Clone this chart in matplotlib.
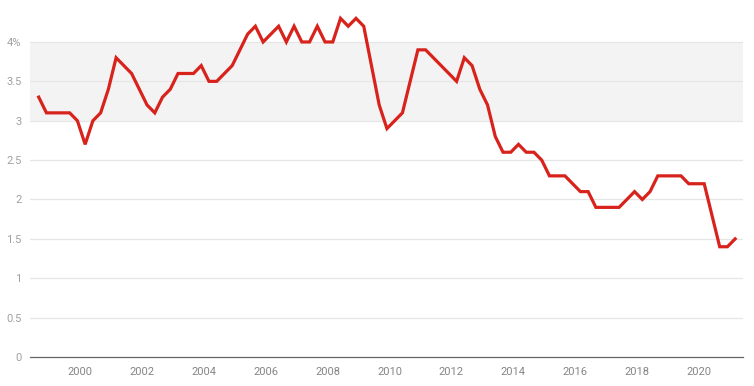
import numpy as np
import matplotlib.pyplot as plt

# quarterly values, first point Sep 1998
start_year = 1998 + 8/12
rate = [3.3, 3.1, 3.1, 3.1, 3.1, 3.0, 2.7, 3.0, 3.1, 3.4,
        3.8, 3.7, 3.6, 3.4, 3.2, 3.1, 3.3, 3.4, 3.6, 3.6,
        3.6, 3.7, 3.5, 3.5, 3.6, 3.7, 3.9, 4.1, 4.2, 4.0,
        4.1, 4.2, 4.0, 4.2, 4.0, 4.0, 4.2, 4.0, 4.0, 4.3,
        4.2, 4.3, 4.2, 3.7, 3.2, 2.9, 3.0, 3.1, 3.5, 3.9,
        3.9, 3.8, 3.7, 3.6, 3.5, 3.8, 3.7, 3.4, 3.2, 2.8,
        2.6, 2.6, 2.7, 2.6, 2.6, 2.5, 2.3, 2.3, 2.3, 2.2,
        2.1, 2.1, 1.9, 1.9, 1.9, 1.9, 2.0, 2.1, 2.0, 2.1,
        2.3, 2.3, 2.3, 2.3, 2.2, 2.2, 2.2, 1.8, 1.4, 1.4,
        1.5]
years = start_year + 0.25*np.arange(len(rate))

yticks = [0, 0.5, 1, 1.5, 2, 2.5, 3, 3.5, 4]
ytick_labels = ['0', '0.5', '1', '1.5', '2', '2.5', '3', '3.5', '4%']
xticks = list(range(2000, 2021, 2))

plt.rcParams['font.family'] = ['Roboto', 'DejaVu Sans']

fig = plt.figure(figsize=(7.54, 3.86), dpi=100)
ax = fig.add_axes([30/754, 29/386, 712.7/754, 354.4/386])

# target band
ax.axhspan(3, 4, color='#f3f3f3', zorder=0, lw=0)
for y in yticks[1:]:
    ax.axhline(y, color='#e6e6e6', lw=0.9, zorder=1)

ax.plot(years, rate, color='#d8231c', lw=2.3, zorder=3, solid_joinstyle='miter')

ax.set_xlim(1998.385, 2021.41)
ax.set_ylim(0, 4.5)
ax.set_yticks(yticks)
ax.set_yticklabels(ytick_labels)
ax.set_xticks(xticks)
ax.tick_params(axis='y', length=0, pad=6, labelsize=8, labelcolor='#a0a0a0')
ax.tick_params(axis='x', length=0, pad=7, labelsize=8, labelcolor='#858585')

for s in ['top', 'right', 'left']:
    ax.spines[s].set_visible(False)
ax.spines['bottom'].set_color('#666666')
ax.spines['bottom'].set_linewidth(0.9)

fig.savefig('out.png', dpi=100)
